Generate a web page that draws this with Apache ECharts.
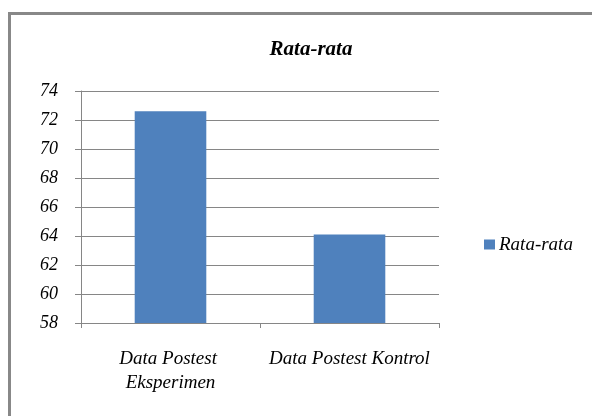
<!DOCTYPE html>
<html>
<head>
<meta charset="utf-8">
<script src="https://cdn.jsdelivr.net/npm/echarts@6/dist/echarts.min.js"></script>
<style>
html,body{margin:0;padding:0;background:#fff;}
#c{width:592px;height:416px;}
</style>
</head>
<body>
<div id="c"></div>
<script>
const categories = ['Data Postest Eksperimen', 'Data Postest Kontrol'];
const seriesName = 'Rata-rata';
const values = [72.6, 64.1];
const titleText = 'Rata-rata';
const yMin = 58, yMax = 74, yStep = 2;

const chart = echarts.init(document.getElementById('c'), null, {renderer: 'canvas'});
const serif = '"Liberation Serif", "DejaVu Serif", serif';
chart.setOption({
  animation: false,
  backgroundColor: '#fff',
  graphic: [{
    type: 'rect',
    shape: {x: 9.5, y: 13.5, width: 700, height: 500},
    style: {fill: 'none', stroke: '#888', lineWidth: 3},
    silent: true
  }],
  title: {
    text: titleText,
    left: 306, top: 34, textAlign: 'center',
    textStyle: {fontFamily: serif, fontStyle: 'italic', fontWeight: 'bold', fontSize: 21, color: '#000'}
  },
  legend: {
    data: [seriesName],
    orient: 'vertical',
    left: 479, top: 230,
    itemWidth: 11, itemHeight: 10, itemGap: 8,
    icon: 'rect',
    textStyle: {fontFamily: serif, fontStyle: 'italic', fontSize: 19, color: '#000', padding: [0,0,0,-1]}
  },
  grid: {left: 81, right: 153, top: 91, bottom: 93},
  xAxis: {
    type: 'category',
    data: categories,
    axisLine: {lineStyle: {color: '#868686', width: 1}},
    axisTick: {show: true, length: 5, lineStyle: {color: '#868686'}},
    axisLabel: {
      margin: 24, fontFamily: serif, fontStyle: 'italic', fontSize: 19, color: '#000',
      width: 175, overflow: 'break', lineHeight: 24, interval: 0
    }
  },
  yAxis: {
    type: 'value',
    min: yMin, max: yMax, interval: yStep,
    axisLine: {show: true, lineStyle: {color: '#868686', width: 1}},
    axisTick: {show: true, length: 6, lineStyle: {color: '#868686'}},
    splitLine: {lineStyle: {color: '#868686', width: 1}},
    axisLabel: {margin: 23, fontFamily: serif, fontStyle: 'italic', fontSize: 18, color: '#000'}
  },
  series: [{
    name: seriesName,
    type: 'bar',
    data: values,
    barCategoryGap: '60%',
    itemStyle: {color: '#4F81BD'}
  }]
});
</script>
</body>
</html>
